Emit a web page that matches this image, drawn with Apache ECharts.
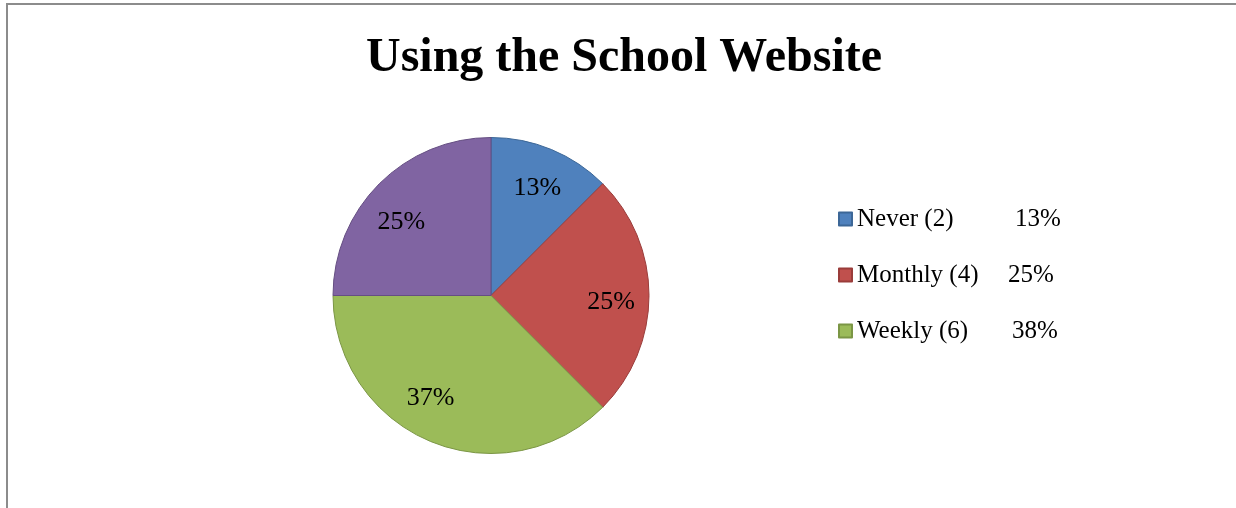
<!DOCTYPE html>
<html>
<head>
<meta charset="utf-8">
<title>Using the School Website</title>
<script src="https://cdn.jsdelivr.net/npm/echarts@6/dist/echarts.min.js"></script>
<style>
  html, body { margin: 0; padding: 0; background: #ffffff; }
  #chart { width: 1236px; height: 508px; }
</style>
</head>
<body>
<div id="chart"></div>
<script>
// Survey answers: how often the school website is used
const categories = ['Never (2)', 'Monthly (4)', 'Weekly (6)', 'Daily (4)'];
const counts = [2, 4, 6, 4];
const sliceLabels = ['13%', '25%', '37%', '25%'];
const legendPercents = ['13%', '25%', '38%'];
const legendNames = categories.slice(0, 3);

const fills = ['#4F81BD', '#C0504D', '#9BBB59', '#8064A2'];
const edges = ['#3C6797', '#9A3C3A', '#7B9645', '#654E82'];
// small nudges of each percentage label away from its default spot
const labelNudges = [[0, 4], [-1, 7], [-14, -9], [-4, 12]];

const serif = '"Liberation Serif", "Times New Roman", serif';

const chart = echarts.init(document.getElementById('chart'), null, { renderer: 'canvas' });

const pieData = categories.map((name, i) => ({
  name,
  value: counts[i],
  itemStyle: { color: fills[i], borderColor: edges[i], borderWidth: 1 }
}));

const labelData = categories.map((name, i) => ({
  name: name,
  value: counts[i],
  label: { formatter: sliceLabels[i], offset: labelNudges[i] }
}));

// legend: name column, then percent column
const nameWidths = [158, 151, 155];

chart.setOption({
  animation: false,
  backgroundColor: '#ffffff',
  title: {
    text: 'Using the School Website',
    left: 619,
    top: 30,
    textAlign: 'center',
    textStyle: { fontFamily: serif, fontWeight: 'bold', fontSize: 48, color: '#000000' }
  },
  graphic: [{
    type: 'polyline',
    shape: { points: [[7, 520], [7, 4], [1250, 4]] },
    style: { stroke: '#8c8c8c', lineWidth: 2, fill: null },
    silent: true
  }],
  legend: {
    orient: 'vertical',
    left: 838,
    top: 206.5,
    padding: 0,
    itemWidth: 13,
    itemHeight: 13,
    itemGap: 31,
    icon: 'rect',
    data: legendNames,
    formatter: function (name) {
      const i = legendNames.indexOf(name);
      return '{n' + i + '|' + name + '}{p|' + legendPercents[i] + '}';
    },
    textStyle: {
      fontFamily: serif,
      fontSize: 25,
      color: '#000000',
      lineHeight: 24,
      rich: {
        n0: { fontFamily: serif, fontSize: 25, width: nameWidths[0] },
        n1: { fontFamily: serif, fontSize: 25, width: nameWidths[1] },
        n2: { fontFamily: serif, fontSize: 25, width: nameWidths[2] },
        p: { fontFamily: serif, fontSize: 25 }
      }
    }
  },
  series: [
    {
      type: 'pie',
      center: [491, 295.5],
      radius: 158,
      startAngle: 90,
      clockwise: true,
      label: { show: false },
      labelLine: { show: false },
      emphasis: { disabled: true },
      data: pieData
    },
    {
      // transparent ring that carries the percentage labels at 3/4 radius
      type: 'pie',
      center: [491, 295.5],
      radius: [78, 158],
      startAngle: 90,
      clockwise: true,
      silent: true,
      legendHoverLink: false,
      itemStyle: { color: 'rgba(0,0,0,0)', borderWidth: 0 },
      label: {
        show: true,
        position: 'inside',
        fontFamily: serif,
        fontSize: 26,
        color: '#000000'
      },
      labelLine: { show: false },
      emphasis: { disabled: true },
      data: labelData
    }
  ]
});
</script>
</body>
</html>
